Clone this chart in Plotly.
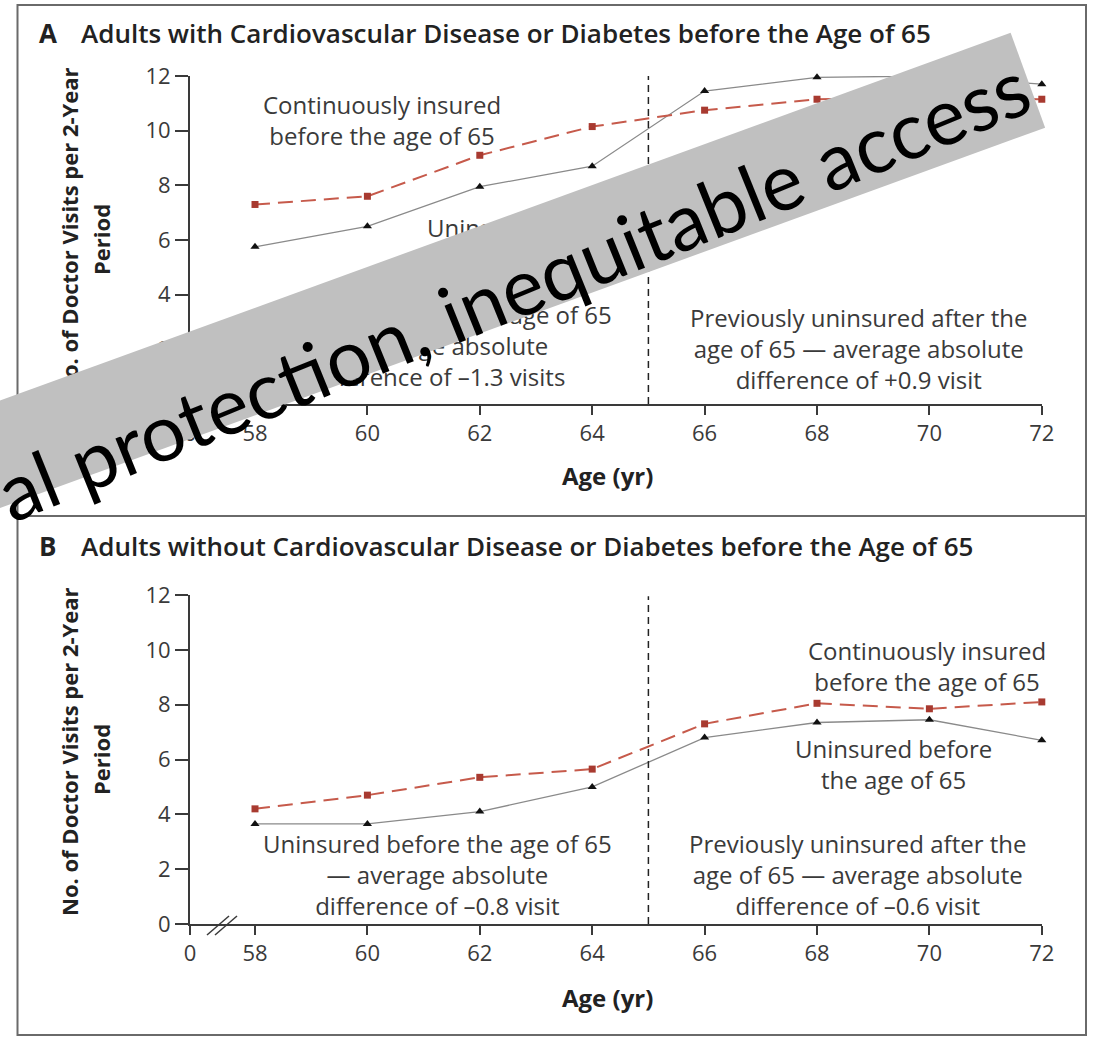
import plotly.graph_objects as go

W, H = 1096, 1037

# ---- data -------------------------------------------------------------
ages = [58, 60, 62, 64, 66, 68, 70, 72]

# Panel A: adults with cardiovascular disease or diabetes before age 65
a_insured = [7.3, 7.6, 9.1, 10.15, 10.75, 11.15, 11.2, 11.15]
a_uninsured = [5.75, 6.5, 7.95, 8.7, 11.45, 11.95, 12.0, 11.7]

# Panel B: adults without cardiovascular disease or diabetes before age 65
b_insured = [4.2, 4.7, 5.35, 5.65, 7.3, 8.05, 7.85, 8.1]
b_uninsured = [3.65, 3.65, 4.1, 5.0, 6.8, 7.35, 7.45, 6.7]

y_tick_values = [0, 2, 4, 6, 8, 10, 12]
x_tick_labels = ["0", "58", "60", "62", "64", "66", "68", "70", "72"]
medicare_age = 65

# ---- layout constants ---------------------------------------------------
FONT = "Open Sans"
TXT = "#3a3a3a"
DARK = "#222222"
AX = "#3a3a3a"
RED_LINE = "#c65a4b"
RED_MARK = "#a83a30"
GRAY_LINE = "#8a8a8a"

PX_PER_YEAR = 56.2
X58_PX = 255
ZERO_PX = 190
zero_pos = 58 - (X58_PX - ZERO_PX) / PX_PER_YEAR   # where the "0" tick sits (axis break)
x_right_px = X58_PX + 14 * PX_PER_YEAR
x_domain = [ZERO_PX / W, x_right_px / W]
x_tick_pos = [zero_pos] + ages


def py(p):
    return 1 - p / H


def ann(x, y, text, size=24, weight=400, anchor="center", angle=0, color=TXT,
        family=FONT):
    return dict(
        x=x / W, y=py(y), xref="paper", yref="paper", text=text,
        showarrow=False, xanchor=anchor, yanchor="middle", textangle=angle,
        font=dict(family=family, size=size, color=color, weight=weight),
    )


def block(cx, first_y, lines, step=28, size=24):
    """Multi-line centred label; first_y is the centre of the first line."""
    mid = first_y + (len(lines) - 1) * step / 2
    return [ann(cx, mid, "<br>".join(lines), size=size)]


fig = go.Figure()

panels = [
    ("x", "y", a_insured, a_uninsured, [py(404), py(76)]),
    ("x2", "y2", b_insured, b_uninsured, [py(924), py(595)]),
]

for xa, ya, ins, unins, dom in panels:
    fig.add_trace(go.Scatter(
        x=ages, y=unins, xaxis=xa, yaxis=ya, mode="lines+markers",
        line=dict(color=GRAY_LINE, width=1.3),
        marker=dict(symbol="triangle-up", size=8, color="#111111"),
        cliponaxis=False, showlegend=False, hoverinfo="skip",
    ))
    fig.add_trace(go.Scatter(
        x=ages, y=ins, xaxis=xa, yaxis=ya, mode="lines+markers",
        line=dict(color=RED_LINE, width=2, dash="15px,8px"),
        marker=dict(symbol="square", size=7, color=RED_MARK),
        cliponaxis=False, showlegend=False, hoverinfo="skip",
    ))

axis_common = dict(
    showgrid=False, zeroline=False, showline=True, linecolor=AX, linewidth=2,
    ticks="outside", tickwidth=1.5, tickcolor=AX, automargin=False,
    tickfont=dict(family=FONT, size=22, color=TXT), fixedrange=True,
)

for i, (xa, ya, ins, unins, dom) in enumerate(panels):
    xname = "xaxis" if i == 0 else "xaxis2"
    yname = "yaxis" if i == 0 else "yaxis2"
    fig.update_layout(**{
        xname: dict(axis_common, domain=x_domain, range=[zero_pos, 72],
                    tickvals=x_tick_pos, ticktext=x_tick_labels, ticklen=9,
                    anchor=ya),
        yname: dict(axis_common, domain=dom, range=[0, 12], ticklen=13,
                    tickvals=y_tick_values, anchor=xa),
    })

shapes = []
# vertical dashed line at age 65
for xa, ya, top in [("x", "y", 12.1), ("x2", "y2", 11.95)]:
    shapes.append(dict(type="line", xref=xa, yref=ya, x0=medicare_age, x1=medicare_age,
                       y0=0, y1=top, line=dict(color=DARK, width=1.5, dash="7px,5px")))

# axis-break marks between 0 and 58
for base in (404, 924):
    for dx in (0, 8):
        shapes.append(dict(type="line", xref="paper", yref="paper",
                           x0=(207 + dx) / W, y0=py(base + 11),
                           x1=(229 + dx) / W, y1=py(base - 8),
                           line=dict(color=AX, width=1.5)))

# panel frames
FRAME = "#6a6a6a"
shapes.append(dict(type="rect", xref="paper", yref="paper",
                   x0=17.5 / W, x1=1086 / W, y0=py(1035), y1=py(5),
                   line=dict(color=FRAME, width=2)))
shapes.append(dict(type="line", xref="paper", yref="paper",
                   x0=17.5 / W, x1=1086 / W, y0=py(516), y1=py(516),
                   line=dict(color=FRAME, width=2)))

annotations = []
title_a = "Adults with Cardiovascular Disease or Diabetes before the Age of 65"
title_b = "Adults without Cardiovascular Disease or Diabetes before the Age of 65"
for letter, title, yc in [("A", title_a, 33), ("B", title_b, 546)]:
    annotations.append(ann(37, yc, letter, size=26, weight=700, anchor="left", color=DARK))
    annotations.append(ann(79, yc, title, size=26, weight=600, anchor="left", color=DARK))

# y-axis titles and x-axis titles
for shift in (0, 520):
    annotations.append(ann(69, 232 + shift, "No. of Doctor Visits per 2-Year", size=22,
                           weight=700, angle=-90, color=DARK))
    annotations.append(ann(101, 240 + shift, "Period", size=22, weight=700, angle=-90,
                           color=DARK))
    annotations.append(ann(607, 475 + shift + (2 if shift else 0), "Age (yr)", size=24,
                           weight=700, color=DARK))

# in-plot labels, panel A
annotations += block(382, 106, ["Continuously insured", "before the age of 65"])
annotations += block(525, 229, ["Uninsured before", "the age of 65"])
annotations += block(437, 318, ["Uninsured before the age of 65", "— average absolute",
                                "difference of –1.3 visits"])
annotations += block(859, 320, ["Previously uninsured after the",
                                "age of 65 — average absolute", "difference of +0.9 visit"])
# in-plot labels, panel B
annotations += block(927, 652, ["Continuously insured", "before the age of 65"], step=27)
annotations += block(893, 750, ["Uninsured before", "the age of 65"], step=27)
annotations += block(437, 846, ["Uninsured before the age of 65", "— average absolute",
                                "difference of –0.8 visit"])
annotations += block(858, 846, ["Previously uninsured after the",
                                "age of 65 — average absolute", "difference of –0.6 visit"])

# diagonal grey banner laid over the figure
annotations.append(dict(
    x=417.2 / W, y=py(302.3), xref="paper", yref="paper", text=" ",
    width=1300, height=101, bgcolor="#c0c0c0", borderpad=0, borderwidth=0,
    textangle=-20, showarrow=False, xanchor="center", yanchor="middle",
))
annotations.append(dict(
    x=512 / W, y=py(288), xref="paper", yref="paper",
    text="al protection, inequitable access",
    font=dict(family="Lato", size=79, color="#000000"),
    textangle=-22, showarrow=False, xanchor="center", yanchor="middle",
))

fig.update_layout(
    template="none",
    width=W, height=H, autosize=False,
    margin=dict(l=0, r=0, t=0, b=0, pad=0),
    paper_bgcolor="white", plot_bgcolor="white",
    shapes=shapes, annotations=annotations,
    showlegend=False,
)

fig.write_html("out.html", config={"displayModeBar": False})
